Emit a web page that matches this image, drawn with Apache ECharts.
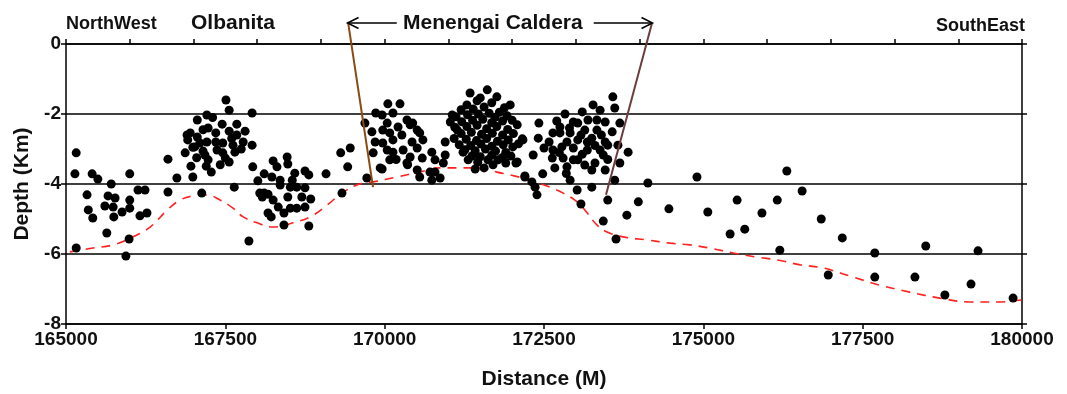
<!DOCTYPE html>
<html>
<head>
<meta charset="utf-8">
<script src="https://cdn.jsdelivr.net/npm/echarts@6/dist/echarts.min.js"></script>
<style>
html, body { margin: 0; padding: 0; background: #fff; }
#chart { width: 1067px; height: 394px; }
</style>
</head>
<body>
<div id="chart"></div>
<script>
// distance (m), depth (km)
const westEvents = [
    [165160, -3.11], [165140, -3.71], [165160, -5.83], [165410, -3.71], [165500, -3.86], [165330, -4.31],
    [165350, -4.74], [165420, -4.97], [165710, -4.00], [165660, -4.34], [165770, -4.40], [165610, -4.63],
    [165740, -4.66], [165750, -4.94], [165640, -5.40], [165880, -4.80], [166000, -4.46], [166000, -4.69],
    [166000, -3.71], [166160, -4.91], [166270, -4.83], [166130, -4.17], [166240, -4.17], [165990, -5.57],
    [165940, -6.06], [166600, -3.29], [166740, -3.83], [166600, -4.23]
];
const olbanitaEvents = [
    [167510, -1.60], [167560, -1.89], [167920, -1.97], [167210, -2.03], [167060, -2.17], [167230, -2.40],
    [167450, -2.29], [167680, -2.29], [167350, -2.54], [167560, -2.49], [167810, -2.49], [166900, -2.60],
    [166950, -2.54], [166910, -2.74], [167060, -2.66], [167100, -2.83], [167210, -2.80], [167350, -2.80],
    [167460, -2.83], [167680, -2.60], [167780, -2.80], [167920, -2.89], [167620, -2.89], [167020, -2.94],
    [167150, -3.06], [167370, -3.03], [167460, -3.11], [167650, -3.09], [166870, -3.11], [167180, -3.17],
    [167230, -3.31], [167560, -3.37], [166960, -3.49], [167200, -3.49], [166990, -3.80], [167280, -3.66],
    [167640, -4.09], [167130, -4.26], [167500, -3.26], [167300, -2.10], [167600, -2.70], [167150, -2.45],
    [167050, -3.25], [166990, -2.95], [167750, -3.00], [167420, -3.45]
];
const southOlbanitaEvents = [
    [167930, -3.51], [168010, -3.91], [168110, -3.71], [168250, -3.34], [168310, -3.51], [168470, -3.23],
    [168480, -3.43], [168590, -3.69], [168750, -3.63], [168810, -3.74], [168230, -3.80], [168360, -3.89],
    [168360, -4.03], [168550, -3.89], [168520, -4.09], [168620, -4.09], [168750, -4.11], [168040, -4.26],
    [168110, -4.26], [168170, -4.29], [168250, -4.46], [168080, -4.37], [168480, -4.37], [168700, -4.37],
    [168840, -4.43], [168330, -4.66], [168420, -4.83], [168520, -4.69], [168620, -4.69], [168750, -4.66],
    [168170, -4.83], [168220, -4.94], [168420, -5.17], [168810, -5.20], [167870, -5.63],
    [169080, -3.71], [169330, -4.26], [169310, -3.11], [169420, -3.51], [169460, -2.97], [169720, -3.83],
    [169930, -3.54]
];
const calderaWestEvents = [
    [169690, -2.26], [169800, -2.51], [169820, -3.11], [169860, -1.97], [169960, -2.03], [170050, -1.71],
    [170240, -1.71], [170130, -1.97], [170040, -2.26], [169970, -2.46], [170080, -2.54], [170210, -2.37],
    [170350, -2.17], [170400, -2.31], [170270, -2.60], [170130, -2.74], [169970, -2.83], [170040, -3.03],
    [170130, -3.09], [170290, -3.03], [170430, -2.80], [170550, -2.54], [170600, -2.74], [170510, -2.97],
    [170400, -3.23], [170590, -3.26], [170080, -3.31], [169960, -3.57], [170350, -3.40], [170740, -3.09],
    [170790, -3.31], [170950, -2.80], [170950, -3.17], [170550, -3.80], [170710, -3.66], [170870, -3.83],
    [170790, -3.66], [170440, -2.26], [170510, -2.46], [169850, -2.80], [170920, -3.40], [170740, -3.89],
    [170510, -3.60], [170180, -3.30], [170360, -3.45]
];
const calderaCentralEvents = [
    [171340, -1.40], [171610, -1.31], [171760, -1.51], [171500, -1.54], [171290, -1.74], [171970, -1.74],
    [171060, -2.03], [171030, -2.23], [171140, -2.46], [172080, -2.31], [172160, -2.71], [172010, -2.94],
    [171230, -3.09], [171310, -3.31], [171420, -3.57], [171620, -3.31], [171780, -3.31], [172060, -3.40],
    [172200, -3.77], [171560, -3.54],
    [171450, -1.62], [171680, -1.68], [171880, -1.82], [171200, -1.88], [171390, -1.86], [171560, -1.80],
    [171800, -1.95], [171120, -2.08], [171300, -2.02], [171470, -2.00], [171640, -1.98], [171730, -2.10],
    [171920, -2.05], [171210, -2.22], [171380, -2.18], [171540, -2.15], [171680, -2.25], [171850, -2.20],
    [172000, -2.18], [171100, -2.38], [171290, -2.36], [171450, -2.32], [171600, -2.42], [171760, -2.36],
    [171930, -2.44], [171200, -2.56], [171360, -2.52], [171520, -2.58], [171690, -2.55], [171850, -2.60],
    [172020, -2.56], [171090, -2.70], [171280, -2.72], [171440, -2.76], [171600, -2.70], [171770, -2.78],
    [171940, -2.74], [171170, -2.88], [171350, -2.90], [171510, -2.86], [171680, -2.92], [171860, -2.88],
    [172100, -2.85], [171260, -3.02], [171420, -3.05], [171580, -3.00], [171740, -3.06], [171900, -3.10],
    [171370, -3.20], [171500, -3.22], [171680, -3.18], [171850, -3.24], [171980, -3.20], [171460, -3.38],
    [171700, -3.45], [171900, -3.40]
];
const calderaEastEvents = [
    [172830, -2.00], [173100, -1.94], [173380, -1.89], [173580, -1.51], [173270, -1.74], [173610, -1.83],
    [172960, -2.23], [173190, -2.17], [173460, -2.23], [172750, -2.37], [172640, -2.54], [172910, -2.54],
    [173140, -2.46], [173330, -2.46], [173570, -2.51], [172860, -2.80], [173030, -2.74], [173250, -2.69],
    [173460, -2.80], [173660, -2.89], [172640, -3.03], [172780, -2.94], [172960, -2.97], [173180, -3.03],
    [173380, -3.03], [173500, -2.89], [172630, -3.26], [172800, -3.26], [173030, -3.31], [173430, -3.17],
    [172670, -3.54], [172860, -3.51], [173140, -3.46], [173250, -3.60], [173460, -3.60], [173690, -3.40],
    [172910, -3.89], [173610, -3.89], [172750, -2.54], [173030, -2.26], [173330, -2.17], [173180, -2.80],
    [172960, -3.31], [173690, -2.26], [173820, -3.09], [172170, -2.74], [172420, -2.26], [172330, -3.17],
    [172500, -2.97], [172200, -3.80], [172480, -3.71], [172360, -4.09], [172390, -4.31], [172310, -3.94],
    [172080, -3.37], [172410, -2.69], [173020, -4.17], [173250, -4.09], [173080, -4.57],
    [172700, -2.20], [172900, -2.40], [173080, -2.60], [173300, -2.90], [172740, -3.10], [173100, -3.15],
    [173300, -3.40], [172850, -3.70], [173500, -3.30], [173400, -2.60], [172580, -2.80]
];
const eastEvents = [
    [173500, -4.46], [173980, -4.51], [173800, -4.89], [174460, -4.71], [173430, -5.06], [173630, -5.57],
    [174130, -3.97], [174900, -3.80], [175070, -4.80], [175530, -4.46], [175420, -5.43], [175650, -5.29],
    [175920, -4.83], [176160, -4.46], [176310, -3.63], [176550, -4.20], [176850, -5.00], [177180, -5.54],
    [176200, -5.89], [177690, -5.97], [178490, -5.77], [179310, -5.91], [176960, -6.60], [177690, -6.66],
    [178320, -6.66], [178790, -7.17], [179200, -6.86], [179860, -7.26]
];

// red dashed interface
const interfaceLine = [
    [165060, -5.94], [165420, -5.83], [165740, -5.74], [166050, -5.51], [166320, -5.23], [166590, -4.74],
    [166790, -4.46], [166990, -4.34], [167210, -4.31], [167420, -4.46], [167620, -4.69], [167780, -4.94],
    [168000, -5.11], [168250, -5.23], [168560, -5.11], [168830, -4.94], [169100, -4.60], [169350, -4.23],
    [169660, -3.97], [169820, -3.94], [170190, -3.80], [170550, -3.66], [170870, -3.54], [171230, -3.54],
    [171500, -3.54], [171760, -3.66], [171970, -3.74], [172280, -3.89], [172590, -4.09], [172800, -4.26],
    [173020, -4.51], [173180, -4.83], [173330, -5.17], [173490, -5.37], [173740, -5.51], [174120, -5.60],
    [174480, -5.69], [174790, -5.74], [175100, -5.83], [175470, -5.97], [175840, -6.09], [176160, -6.17],
    [176520, -6.31], [176880, -6.40], [177300, -6.63], [177770, -6.89], [178240, -7.09], [178710, -7.26],
    [179180, -7.37], [179650, -7.37], [180000, -7.31]
];

// caldera boundaries and arrow
const calderaWestWall = [[169425, 0.63], [169817, -4.09]];
const calderaEastWall = [[174195, 0.6], [173473, -4.31]];
const arrowLeft = [169425, 0.6, 170190];
const arrowRight = [174195, 0.6, 173280];

const font = '"Liberation Sans", Arial, sans-serif';
const ink = '#111';

const chart = echarts.init(document.getElementById('chart'), null, { renderer: 'canvas' });

const axisLine = { show: true, onZero: false, lineStyle: { color: '#000', width: 1.5 } };
const axisTick = { show: true, inside: false, length: 5, lineStyle: { color: '#000', width: 1.5 } };

function dots(data) {
    return {
        type: 'scatter',
        data: data,
        symbol: 'circle',
        symbolSize: 9,
        itemStyle: { color: '#000', opacity: 1 },
        z: 3
    };
}

function arrow(a, pathD, offset) {
    return {
        type: 'line',
        clip: false,
        data: [
            { value: [a[0], a[1]], symbol: pathD, symbolSize: [11, 11], symbolOffset: [offset, 0] },
            { value: [a[2], a[1]], symbol: 'none' }
        ],
        showSymbol: true,
        lineStyle: { color: '#000', width: 1.5 },
        itemStyle: { color: 'rgba(0,0,0,0)', borderColor: '#000', borderWidth: 1.5 },
        z: 5
    };
}

const option = {
    backgroundColor: '#fff',
    animation: false,
    grid: { left: 66, right: 45, top: 44, bottom: 70, containLabel: false, outerBoundsMode: 'none' },
    xAxis: [{
        type: 'value',
        position: 'bottom',
        min: 165000,
        max: 180000,
        interval: 2500,
        axisLine: axisLine,
        axisTick: axisTick,
        splitLine: { show: false },
        axisLabel: {
            color: ink, fontFamily: font, fontWeight: 'bold', fontSize: 19, margin: 6,
            formatter: v => String(v)
        },
        name: 'Distance (M)',
        nameLocation: 'middle',
        nameGap: 45,
        nameTextStyle: { color: ink, fontFamily: font, fontWeight: 'bold', fontSize: 21 }
    }, {
        type: 'value',
        position: 'top',
        min: 165000,
        max: 180000,
        interval: 1000,
        axisLine: axisLine,
        axisTick: axisTick,
        splitLine: { show: false },
        axisLabel: { show: false }
    }],
    yAxis: [{
        type: 'value',
        position: 'left',
        min: -8,
        max: 0,
        interval: 2,
        axisLine: axisLine,
        axisTick: axisTick,
        splitLine: { show: true, lineStyle: { color: '#000', width: 1.5 } },
        axisLabel: { color: ink, fontFamily: font, fontWeight: 'bold', fontSize: 19, margin: 5 },
        name: 'Depth (Km)',
        nameLocation: 'middle',
        nameGap: 33,
        nameRotate: 90,
        nameTextStyle: { color: ink, fontFamily: font, fontWeight: 'bold', fontSize: 21 }
    }, {
        type: 'value',
        position: 'right',
        min: -8,
        max: 0,
        interval: 2,
        axisLine: axisLine,
        axisTick: axisTick,
        splitLine: { show: false },
        axisLabel: { show: false }
    }],
    graphic: [
        { type: 'text', left: 66, top: 15, style: { text: 'NorthWest', font: 'bold 18px ' + font, fill: ink } },
        { type: 'text', left: 191, top: 13, style: { text: 'Olbanita', font: 'bold 21px ' + font, fill: ink } },
        { type: 'text', left: 403, top: 13, style: { text: 'Menengai Caldera', font: 'bold 21px ' + font, fill: ink } },
        { type: 'text', left: 936, top: 17, style: { text: 'SouthEast', font: 'bold 18px ' + font, fill: ink } }
    ],
    series: [
        {
            type: 'line',
            data: interfaceLine,
            smooth: 0.4,
            showSymbol: false,
            lineStyle: { color: '#ff2020', width: 1.6, type: [9, 7] },
            z: 2
        },
        dots(westEvents),
        dots(olbanitaEvents),
        dots(southOlbanitaEvents),
        dots(calderaWestEvents),
        dots(calderaCentralEvents),
        dots(calderaEastEvents),
        dots(eastEvents),
        {
            type: 'line',
            clip: false,
            data: calderaWestWall,
            showSymbol: false,
            lineStyle: { color: '#8a4a12', width: 2 },
            z: 4
        },
        {
            type: 'line',
            clip: false,
            data: calderaEastWall,
            showSymbol: false,
            lineStyle: { color: '#6e3c3c', width: 2 },
            z: 4
        },
        arrow(arrowLeft, 'path://M10,0L0,5L10,10', 5),
        arrow(arrowRight, 'path://M0,0L10,5L0,10', -5)
    ]
};

chart.setOption(option);
</script>
</body>
</html>
